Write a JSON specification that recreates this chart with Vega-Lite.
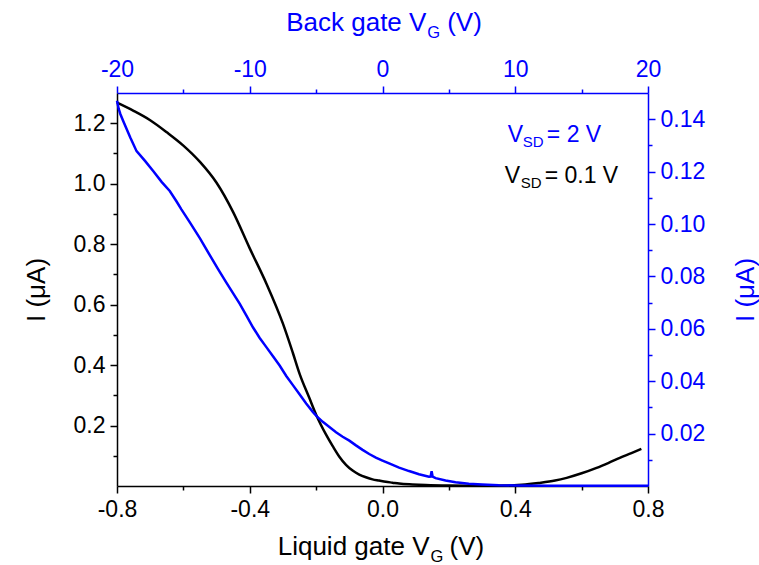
{
  "$schema": "https://vega.github.io/schema/vega-lite/v6.json",
  "width": 531,
  "height": 393,
  "autosize": {"type": "none"},
  "padding": {"left": 117, "top": 93, "right": 111, "bottom": 79},
  "background": "white",
  "config": {
    "view": {"stroke": null},
    "font": "Liberation Sans",
    "axis": {"grid": false, "labelFlush": false, "labelOverlap": false, "labelFont": "Liberation Sans", "titleFont": "Liberation Sans", "titleFontWeight": "normal", "labelFontSize": 23, "titleFontSize": 26, "domainWidth": 1.5, "tickWidth": 1.5, "labelPadding": 5}
  },
  "datasets": {
    "liquid": [
      {"lg": -0.80, "I": 1.268}, {"lg": -0.75, "I": 1.241}, {"lg": -0.70, "I": 1.210}, {"lg": -0.65, "I": 1.170},
      {"lg": -0.60, "I": 1.126}, {"lg": -0.55, "I": 1.072}, {"lg": -0.50, "I": 1.003}, {"lg": -0.45, "I": 0.906},
      {"lg": -0.40, "I": 0.786}, {"lg": -0.35, "I": 0.670}, {"lg": -0.30, "I": 0.537}, {"lg": -0.27, "I": 0.440},
      {"lg": -0.25, "I": 0.372}, {"lg": -0.22, "I": 0.290}, {"lg": -0.20, "I": 0.236}, {"lg": -0.17, "I": 0.170},
      {"lg": -0.15, "I": 0.132}, {"lg": -0.13, "I": 0.097}, {"lg": -0.11, "I": 0.070}, {"lg": -0.09, "I": 0.051},
      {"lg": -0.07, "I": 0.038}, {"lg": -0.05, "I": 0.029}, {"lg": -0.03, "I": 0.022}, {"lg": -0.01, "I": 0.018},
      {"lg": 0.01, "I": 0.014}, {"lg": 0.03, "I": 0.011}, {"lg": 0.05, "I": 0.008}, {"lg": 0.09, "I": 0.005},
      {"lg": 0.13, "I": 0.003}, {"lg": 0.20, "I": 0.0015}, {"lg": 0.30, "I": 0.001}, {"lg": 0.38, "I": 0.0015},
      {"lg": 0.42, "I": 0.004}, {"lg": 0.47, "I": 0.010}, {"lg": 0.52, "I": 0.018}, {"lg": 0.555, "I": 0.027},
      {"lg": 0.60, "I": 0.042}, {"lg": 0.645, "I": 0.060}, {"lg": 0.68, "I": 0.076}, {"lg": 0.715, "I": 0.093},
      {"lg": 0.75, "I": 0.109}, {"lg": 0.78, "I": 0.123}
    ],
    "back": [
      {"bg": -20, "I": 0.1470}, {"bg": -19.875, "I": 0.1440}, {"bg": -19.75, "I": 0.1420}, {"bg": -19.525, "I": 0.1392},
      {"bg": -19, "I": 0.1330}, {"bg": -18.525, "I": 0.1278}, {"bg": -17.875, "I": 0.1240}, {"bg": -17.275, "I": 0.1202},
      {"bg": -16.625, "I": 0.1160}, {"bg": -16.025, "I": 0.1126}, {"bg": -15.5, "I": 0.1085}, {"bg": -15.15, "I": 0.1056},
      {"bg": -14.5, "I": 0.1005}, {"bg": -13.75, "I": 0.0945}, {"bg": -13, "I": 0.0880}, {"bg": -12.375, "I": 0.0827},
      {"bg": -11.75, "I": 0.0775}, {"bg": -11.25, "I": 0.0735}, {"bg": -10.75, "I": 0.0695}, {"bg": -10.25, "I": 0.0650},
      {"bg": -9.75, "I": 0.0605}, {"bg": -9.25, "I": 0.0565}, {"bg": -8.75, "I": 0.0530}, {"bg": -8.25, "I": 0.0495},
      {"bg": -7.75, "I": 0.0460}, {"bg": -7.25, "I": 0.0420}, {"bg": -6.75, "I": 0.0385}, {"bg": -6.25, "I": 0.0350},
      {"bg": -5.75, "I": 0.0315}, {"bg": -5.25, "I": 0.0283}, {"bg": -4.95, "I": 0.0266}, {"bg": -4.5, "I": 0.0245},
      {"bg": -4, "I": 0.0225}, {"bg": -3.5, "I": 0.0205}, {"bg": -3, "I": 0.0188}, {"bg": -2.5, "I": 0.0173},
      {"bg": -2, "I": 0.0155}, {"bg": -1.5, "I": 0.0138}, {"bg": -1, "I": 0.0122}, {"bg": -0.5, "I": 0.0108},
      {"bg": 0, "I": 0.0097}, {"bg": 0.5, "I": 0.0086}, {"bg": 1.25, "I": 0.0070}, {"bg": 2, "I": 0.0057},
      {"bg": 2.75, "I": 0.0045}, {"bg": 3.5, "I": 0.0035}, {"bg": 3.625, "I": 0.0036}, {"bg": 3.7, "I": 0.0056},
      {"bg": 3.775, "I": 0.0036}, {"bg": 4, "I": 0.0030}, {"bg": 4.75, "I": 0.0021}, {"bg": 5.5, "I": 0.0014},
      {"bg": 6.5, "I": 0.0009}, {"bg": 7.5, "I": 0.0006}, {"bg": 8.75, "I": 0.0003}, {"bg": 10, "I": 0.0002},
      {"bg": 12.5, "I": 0.0001}, {"bg": 15, "I": 0.0001}, {"bg": 17.5, "I": 0.0001}, {"bg": 20, "I": 0.0001}
    ],
    "labels": [
      {"t": "Liquid gate V", "x": -0.3158, "y": -0.2267, "grp": "bl-main"},
      {"t": "G", "x": 0.1446, "y": -0.25, "grp": "bl-sub"},
      {"t": "(V)", "x": 0.2018, "y": -0.2267, "grp": "bl-main"},
      {"t": "Back gate V", "x": -0.2902, "y": 1.505, "grp": "bg-main"},
      {"t": "G", "x": 0.1352, "y": 1.482, "grp": "bg-sub"},
      {"t": "(V)", "x": 0.1949, "y": 1.505, "grp": "bg-main"}
    ]
  },
  "layer": [
    {
      "data": {"name": "liquid"},
      "mark": {"type": "line", "color": "black", "strokeWidth": 2.5, "interpolate": "monotone"},
      "encoding": {
        "x": {"field": "lg", "type": "quantitative", "scale": {"domain": [-0.8, 0.8], "nice": false, "zero": false},
          "axis": {"orient": "bottom", "title": null, "values": [-0.8, -0.6, -0.4, -0.2, 0, 0.2, 0.4, 0.6, 0.8], "format": ".1f",
            "labelExpr": "round(datum.value*10) % 4 == 0 ? replace(datum.label, '−', '-') : ''",
            "tickSize": {"condition": {"test": "round(datum.value*10) % 4 != 0", "value": 4}, "value": 7},
            "domainColor": "black", "tickColor": "black", "labelColor": "black"}},
        "y": {"field": "I", "type": "quantitative", "scale": {"domain": [0, 1.3], "nice": false, "zero": false},
          "axis": {"orient": "left", "title": "I (μA)", "titleColor": "black", "titlePadding": 24,
            "values": [0.1, 0.2, 0.3, 0.4, 0.5, 0.6, 0.7, 0.8, 0.9, 1.0, 1.1, 1.2], "format": ".1f",
            "labelExpr": "round(datum.value*10) % 2 == 0 ? datum.label : ''",
            "tickSize": {"condition": {"test": "round(datum.value*10) % 2 != 0", "value": 4}, "value": 7},
            "domainColor": "black", "tickColor": "black", "labelColor": "black"}}
      }
    },
    {
      "data": {"name": "back"},
      "mark": {"type": "line", "color": "#0000ff", "strokeWidth": 2.5},
      "encoding": {
        "x": {"field": "bg", "type": "quantitative", "scale": {"domain": [-20, 20], "nice": false, "zero": false},
          "axis": {"orient": "top", "title": null, "values": [-20, -15, -10, -5, 0, 5, 10, 15, 20],
            "labelExpr": "datum.value % 10 == 0 ? replace(datum.label, '−', '-') : ''",
            "tickSize": {"condition": {"test": "datum.value % 10 != 0", "value": 4}, "value": 7},
            "domainColor": "#0000ff", "tickColor": "#0000ff", "labelColor": "#0000ff"}},
        "y": {"field": "I", "type": "quantitative", "scale": {"domain": [0, 0.15], "nice": false, "zero": false},
          "axis": {"orient": "right", "title": "I (μA)", "titleColor": "#0000ff", "titleAngle": 270, "titleBaseline": "top", "titlePadding": 28,
            "values": [0.01, 0.02, 0.03, 0.04, 0.05, 0.06, 0.07, 0.08, 0.09, 0.10, 0.11, 0.12, 0.13, 0.14], "format": ".2f",
            "labelExpr": "round(datum.value*100) % 2 == 0 ? datum.label : ''",
            "tickSize": {"condition": {"test": "round(datum.value*100) % 2 != 0", "value": 4}, "value": 7},
            "domainColor": "#0000ff", "tickColor": "#0000ff", "labelColor": "#0000ff"}}
      }
    },
    {
      "data": {"name": "labels"},
      "transform": [{"filter": "datum.grp == 'bl-main'"}],
      "mark": {"type": "text", "align": "left", "baseline": "alphabetic", "fontSize": 26, "color": "black"},
      "encoding": {
        "x": {"field": "x", "type": "quantitative", "scale": {"domain": [-0.8, 0.8], "nice": false, "zero": false}, "axis": null},
        "y": {"field": "y", "type": "quantitative", "scale": {"domain": [0, 1.3], "nice": false, "zero": false}, "axis": null},
        "text": {"field": "t"}
      }
    },
    {
      "data": {"name": "labels"},
      "transform": [{"filter": "datum.grp == 'bl-sub'"}],
      "mark": {"type": "text", "align": "left", "baseline": "alphabetic", "fontSize": 16.5, "color": "black"},
      "encoding": {
        "x": {"field": "x", "type": "quantitative", "scale": {"domain": [-0.8, 0.8], "nice": false, "zero": false}, "axis": null},
        "y": {"field": "y", "type": "quantitative", "scale": {"domain": [0, 1.3], "nice": false, "zero": false}, "axis": null},
        "text": {"field": "t"}
      }
    },
    {
      "data": {"name": "labels"},
      "transform": [{"filter": "datum.grp == 'bg-main'"}],
      "mark": {"type": "text", "align": "left", "baseline": "alphabetic", "fontSize": 26, "color": "#0000ff"},
      "encoding": {
        "x": {"field": "x", "type": "quantitative", "scale": {"domain": [-0.8, 0.8], "nice": false, "zero": false}, "axis": null},
        "y": {"field": "y", "type": "quantitative", "scale": {"domain": [0, 1.3], "nice": false, "zero": false}, "axis": null},
        "text": {"field": "t"}
      }
    },
    {
      "data": {"name": "labels"},
      "transform": [{"filter": "datum.grp == 'bg-sub'"}],
      "mark": {"type": "text", "align": "left", "baseline": "alphabetic", "fontSize": 16.5, "color": "#0000ff"},
      "encoding": {
        "x": {"field": "x", "type": "quantitative", "scale": {"domain": [-0.8, 0.8], "nice": false, "zero": false}, "axis": null},
        "y": {"field": "y", "type": "quantitative", "scale": {"domain": [0, 1.3], "nice": false, "zero": false}, "axis": null},
        "text": {"field": "t"}
      }
    },
    {
      "data": {"values": [
        {"t": "V", "x": 0.3772, "y": 1.139, "c": "2V"},
        {"t": "= 2 V", "x": 0.4951, "y": 1.139, "c": "2V"},
        {"t": "V", "x": 0.3681, "y": 1.0017, "c": "01V"},
        {"t": "= 0.1 V", "x": 0.4886, "y": 1.0017, "c": "01V"}
      ]},
      "mark": {"type": "text", "align": "left", "baseline": "alphabetic", "fontSize": 23},
      "encoding": {
        "x": {"field": "x", "type": "quantitative", "scale": {"domain": [-0.8, 0.8], "nice": false, "zero": false}, "axis": null},
        "y": {"field": "y", "type": "quantitative", "scale": {"domain": [0, 1.3], "nice": false, "zero": false}, "axis": null},
        "color": {"field": "c", "type": "nominal", "scale": {"domain": ["2V", "01V"], "range": ["#0000ff", "black"]}, "legend": null},
        "text": {"field": "t"}
      }
    },
    {
      "data": {"values": [
        {"t": "SD", "x": 0.4228, "y": 1.1226, "c": "2V"},
        {"t": "SD", "x": 0.4163, "y": 0.985, "c": "01V"}
      ]},
      "mark": {"type": "text", "align": "left", "baseline": "alphabetic", "fontSize": 15},
      "encoding": {
        "x": {"field": "x", "type": "quantitative", "scale": {"domain": [-0.8, 0.8], "nice": false, "zero": false}, "axis": null},
        "y": {"field": "y", "type": "quantitative", "scale": {"domain": [0, 1.3], "nice": false, "zero": false}, "axis": null},
        "color": {"field": "c", "type": "nominal", "scale": {"domain": ["2V", "01V"], "range": ["#0000ff", "black"]}, "legend": null},
        "text": {"field": "t"}
      }
    }
  ],
  "resolve": {"scale": {"x": "independent", "y": "independent", "color": "independent"}}
}
